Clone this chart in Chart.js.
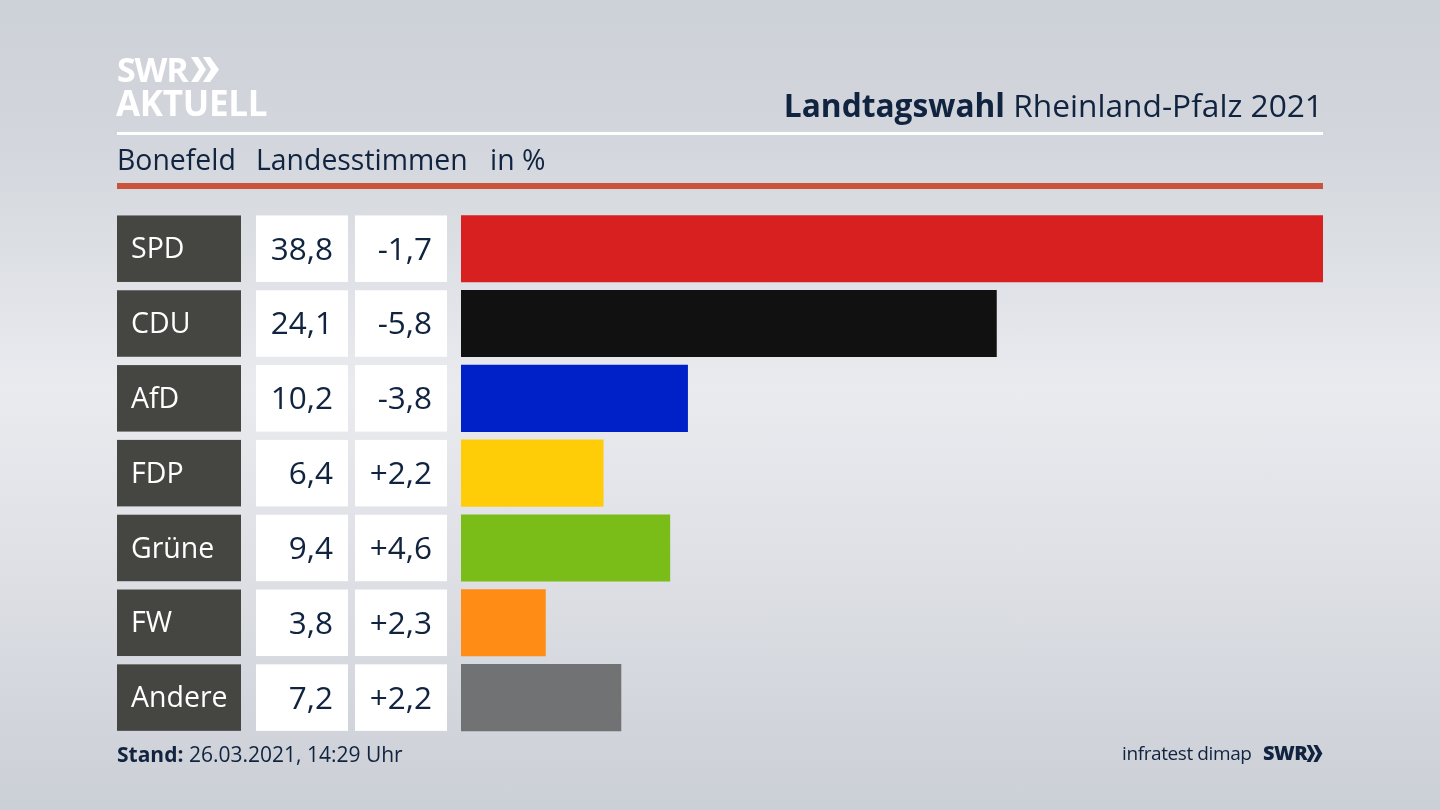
<!DOCTYPE html>
<html lang="de">
<head>
<meta charset="utf-8">
<title>Landtagswahl Rheinland-Pfalz 2021</title>
<script src="https://cdn.jsdelivr.net/npm/chart.js@4"></script>
<style>
  html, body { margin: 0; padding: 0; }
  body {
    width: 1440px; height: 810px; overflow: hidden; position: relative;
    font-family: "Open Sans", sans-serif; color: #10233f;
    background: linear-gradient(180deg, #cdd1d8 0%, #d3d6dc 18%, #e9ebef 48%, #dfe1e6 68%, #cbcfd6 100%);
  }
  canvas { position: absolute; left: 0; top: 0; }
  .t { position: absolute; white-space: nowrap; line-height: 1; }
  .rule { position: absolute; left: 117px; width: 1206px; }
  .logo { color: #fff; font-weight: 700; }
</style>
</head>
<body>
<canvas id="chart" width="1440" height="810"></canvas>

<div class="t logo" style="left:117px;top:52px;font-size:34px;letter-spacing:-1.200px">SWR</div>
<svg style="position:absolute;left:190px;top:57px" width="30" height="25" viewBox="0 0 30 25">
  <path d="M1 0h7l8 12.500-8 12.500h-7l8-12.500zM13 0h7l9 12.500-9 12.500h-7l8-12.500z" fill="#fff"/>
</svg>
<div class="t logo" style="left:116px;top:85px;font-size:35px;letter-spacing:-.3px">AKTUELL</div>

<div class="t" style="right:117px;top:89px;font-size:31.700px"><b>Landtagswahl</b> Rheinland-Pfalz 2021</div>
<div class="rule" style="top:132px;height:3px;background:#fff"></div>

<div class="t" style="left:117px;top:145px;font-size:28.400px">Bonefeld</div>
<div class="t" style="left:256px;top:145px;font-size:28.400px">Landesstimmen</div>
<div class="t" style="left:490px;top:145px;font-size:28.400px">in %</div>
<div class="rule" style="top:183px;height:6px;background:#cb533b"></div>

<div class="t" style="left:117px;top:744px;font-size:21px"><b>Stand:</b> 26.03.2021, 14:29 Uhr</div>
<div class="t" style="left:1122px;top:744px;font-size:19px;letter-spacing:-.4px">infratest dimap</div>
<div class="t" style="left:1263px;top:743px;font-size:20px;font-weight:800;letter-spacing:-.5px">SWR</div>
<svg style="position:absolute;left:1306px;top:745px" width="17" height="17" viewBox="0 0 30 25" preserveAspectRatio="none">
  <path d="M1 0h7l8 12.500-8 12.500h-7l8-12.500zM13 0h7l9 12.500-9 12.500h-7l8-12.500z" fill="#10233f"/>
</svg>

<script>
// Values
const parties = ["SPD", "CDU", "AfD", "FDP", "Grüne", "FW", "Andere"];
const shares = [38.8, 24.1, 10.2, 6.4, 9.4, 3.8, 7.2];
const changes = ["-1,7", "-5,8", "-3,8", "+2,2", "+4,6", "+2,3", "+2,2"];
const partyColors = ["#d7201f", "#111111", "#0021c7", "#ffcc08", "#7abc18", "#ff8c14", "#717274"];

const BAR_H = 66.5;

// Party name, value and change cells left of the bars, one per row
const rowCells = {
  id: "rowCells",
  beforeDatasetsDraw(chart) {
    const { ctx, scales } = chart;
    ctx.save();
    ctx.textBaseline = "middle";
    parties.forEach((party, i) => {
      const y = scales.y.getPixelForValue(i);
      const top = y - BAR_H / 2;

      ctx.fillStyle = "#454542";
      ctx.fillRect(117, top, 124, BAR_H);
      ctx.fillStyle = "#ffffff";
      ctx.fillRect(256, top, 92, BAR_H);
      ctx.fillRect(355, top, 92, BAR_H);

      ctx.font = '28.5px "Open Sans", sans-serif';
      ctx.textAlign = "left";
      ctx.fillText(party, 131, y + 1.5);

      ctx.fillStyle = "#10233f";
      ctx.font = '31.5px "Open Sans", sans-serif';
      ctx.textAlign = "right";
      ctx.fillText(shares[i].toFixed(1).replace(".", ","), 333, y + 2);
      ctx.fillText(changes[i], 432, y + 2);
    });
    ctx.restore();
  },
};

new Chart(document.getElementById("chart"), {
  type: "bar",
  data: {
    labels: parties,
    datasets: [{
      data: shares,
      backgroundColor: partyColors,
      barThickness: BAR_H,
      borderWidth: 0,
    }],
  },
  options: {
    indexAxis: "y",
    responsive: false,
    animation: false,
    layout: { padding: { left: 461, right: 117, top: 211.3, bottom: 75 } },
    scales: {
      x: { display: false, min: 0, max: 38.8 },
      y: { display: false },
    },
    plugins: { legend: { display: false }, tooltip: { enabled: false } },
  },
  plugins: [rowCells],
});
</script>
</body>
</html>
